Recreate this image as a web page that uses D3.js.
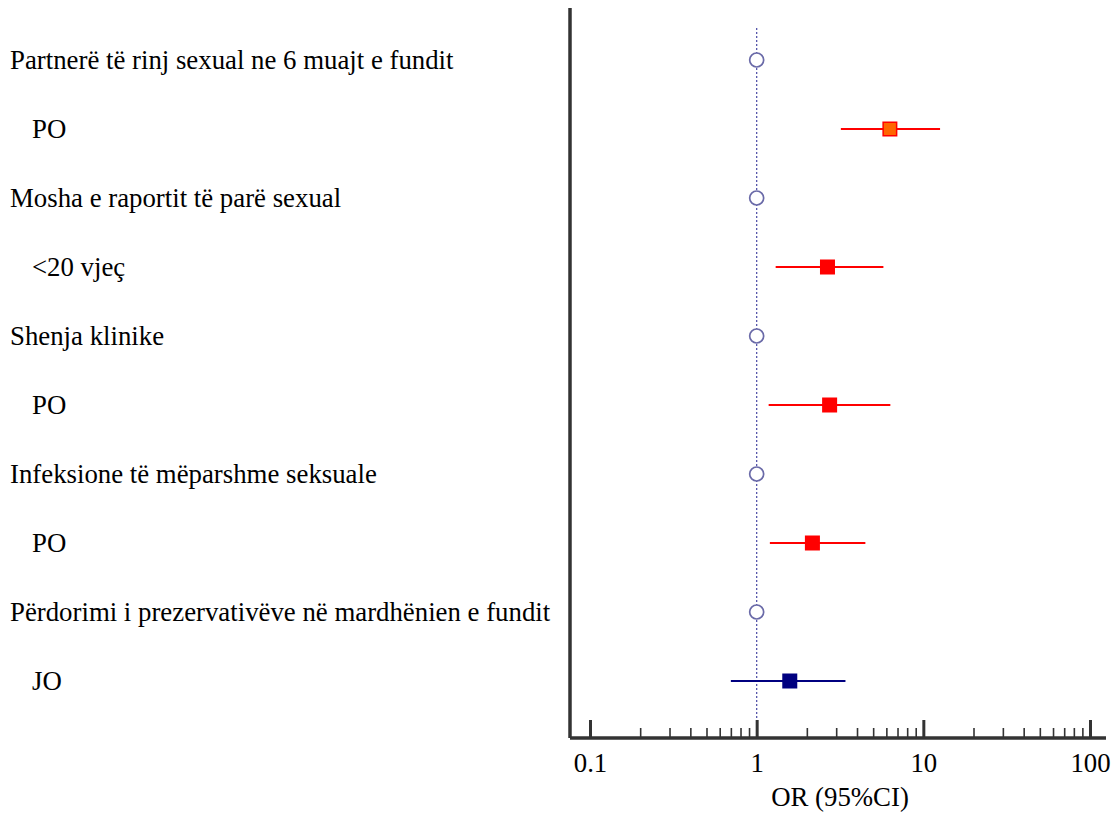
<!DOCTYPE html>
<html>
<head>
<meta charset="utf-8">
<script src="https://cdn.jsdelivr.net/npm/d3@7"></script>
<style>
  body { margin: 0; background: #fff; }
  text { font-family: "Liberation Serif", "Times New Roman", serif; }
</style>
</head>
<body>
<div id="chart"></div>
<script>
// Row labels (top to bottom) and whether row is a sub-item (indented)
var labels = [
    "Partnerë të rinj sexual ne 6 muajt e fundit",
    "PO",
    "Mosha e raportit të parë sexual",
    "<20 vjeç",
    "Shenja klinike",
    "PO",
    "Infeksione të mëparshme seksuale",
    "PO",
    "Përdorimi i prezervativëve në mardhënien e fundit",
    "JO"
];
var indent = [false, true, false, true, false, true, false, true, false, true];
// odds ratios; reference rows are 1 with no CI
var orValue = [1, 6.3, 1, 2.66, 1, 2.74, 1, 2.16, 1, 1.58];
var ciLow   = [null, 3.2, null, 1.30, null, 1.18, null, 1.20, null, 0.70];
var ciHigh  = [null, 12.6, null, 5.76, null, 6.34, null, 4.49, null, 3.41];
var rowType = ["ref", "orange", "ref", "red", "ref", "red", "ref", "red", "ref", "navy"];
var majorTicks = [0.1, 1, 10, 100];

var svgWidth = 1118;
var svgHeight = 815;
var fontSize = "26.8px";

var svg = d3.select("#chart")
    .append("svg")
    .attr("width", svgWidth)
    .attr("height", svgHeight);

var x = d3.scaleLog()
    .domain([0.1, 100])
    .range([590, 1090]);

var y = d3.scalePoint()
    .domain(d3.range(labels.length))
    .range([60, 681]);

var axisY = 738;

// minor ticks 2..9 in each decade
var minorTicks = [];
[0.1, 1, 10].forEach(function(base) {
    for (var k = 2; k <= 9; k++) minorTicks.push(base * k);
});

// reference line at OR = 1
svg.append("line")
    .attr("x1", x(1)).attr("x2", x(1))
    .attr("y1", 28).attr("y2", axisY)
    .attr("stroke", "#5555aa")
    .attr("stroke-width", 1.3)
    .attr("stroke-dasharray", "2,2");

// minor ticks axis
svg.append("g")
    .attr("transform", `translate(0, ${axisY})`)
    .call(d3.axisBottom(x).tickValues(minorTicks).tickSize(-10).tickFormat(""))
    .call(g => g.select(".domain").remove())
    .call(g => g.selectAll(".tick line").attr("stroke", "#333").attr("stroke-width", 1.6));

// major ticks axis
svg.append("g")
    .attr("transform", `translate(0, ${axisY})`)
    .call(d3.axisBottom(x).tickValues(majorTicks).tickSize(-18)
        .tickFormat(d => d3.format("~g")(d)))
    .call(g => g.select(".domain").remove())
    .call(g => g.selectAll(".tick line").attr("stroke", "#333").attr("stroke-width", 3))
    .call(g => g.selectAll(".tick text")
        .attr("fill", "#000")
        .attr("y", 34)
        .attr("dy", "0")
        .style("font-size", fontSize)
        .style("font-family", "Liberation Serif, Times New Roman, serif"));

// axis lines
svg.append("line")
    .attr("x1", 570).attr("x2", 1106)
    .attr("y1", axisY).attr("y2", axisY)
    .attr("stroke", "#333").attr("stroke-width", 3.5);
svg.append("line")
    .attr("x1", 570).attr("x2", 570)
    .attr("y1", 8).attr("y2", axisY)
    .attr("stroke", "#333").attr("stroke-width", 3.5);

// axis title
svg.append("text")
    .attr("x", 840)
    .attr("y", 806)
    .attr("text-anchor", "middle")
    .style("font-size", fontSize)
    .text("OR (95%CI)");

// row labels
svg.selectAll(".rowLabel")
    .data(labels)
    .enter()
    .append("text")
    .attr("class", "rowLabel")
    .attr("x", (d, i) => indent[i] ? 32 : 10)
    .attr("y", (d, i) => y(i) + 9)
    .style("font-size", fontSize)
    .text(d => d);

var idx = d3.range(labels.length);
var colors = {
    orange: { fill: "#ff6600", stroke: "#ff0000", line: "#ff0000" },
    red: { fill: "#ff0000", stroke: "#ff0000", line: "#ff0000" },
    navy: { fill: "#000080", stroke: "#000080", line: "#000080" }
};

// CI lines
svg.selectAll(".ci")
    .data(idx.filter(i => rowType[i] !== "ref"))
    .enter()
    .append("line")
    .attr("class", "ci")
    .attr("x1", i => x(ciLow[i]))
    .attr("x2", i => x(ciHigh[i]))
    .attr("y1", i => y(i))
    .attr("y2", i => y(i))
    .attr("stroke", i => colors[rowType[i]].line)
    .attr("stroke-width", 1.8);

// squares
var sq = 13.5;
svg.selectAll(".est")
    .data(idx.filter(i => rowType[i] !== "ref"))
    .enter()
    .append("rect")
    .attr("class", "est")
    .attr("x", i => x(orValue[i]) - sq / 2)
    .attr("y", i => y(i) - sq / 2)
    .attr("width", sq)
    .attr("height", sq)
    .attr("fill", i => colors[rowType[i]].fill)
    .attr("stroke", i => colors[rowType[i]].stroke)
    .attr("stroke-width", 1.5);

// reference circles
svg.selectAll(".refpt")
    .data(idx.filter(i => rowType[i] === "ref"))
    .enter()
    .append("circle")
    .attr("class", "refpt")
    .attr("cx", i => x(orValue[i]))
    .attr("cy", i => y(i))
    .attr("r", 7)
    .attr("fill", "#fff")
    .attr("stroke", "#6a6aa8")
    .attr("stroke-width", 1.7);
</script>
</body>
</html>
